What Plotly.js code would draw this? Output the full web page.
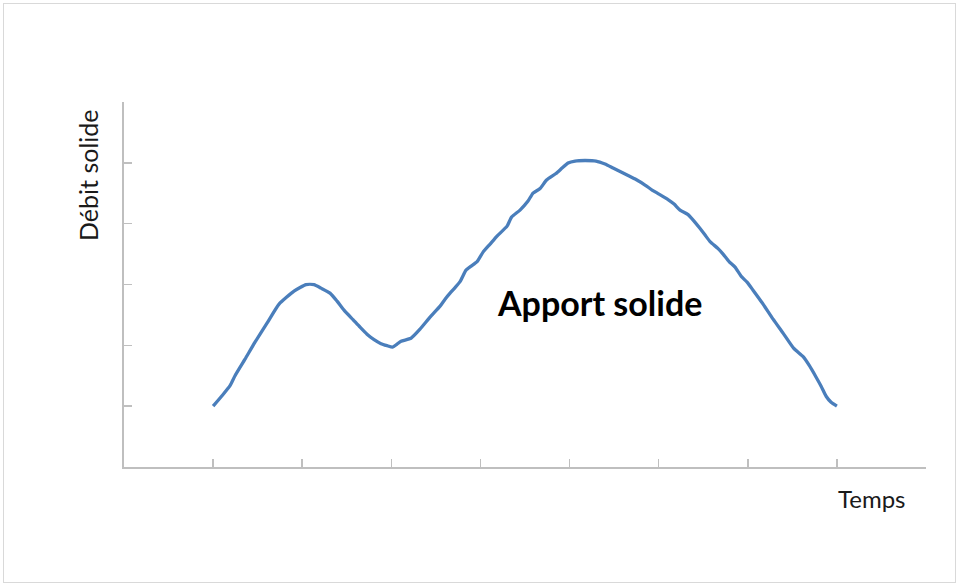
<!DOCTYPE html>
<html>
<head>
<meta charset="utf-8">
<script src="https://cdn.plot.ly/plotly-3.0.1.min.js"></script>
<style>
  html, body { margin: 0; padding: 0; background: #ffffff; }
  #chart { width: 960px; height: 585px; position: absolute; left: 0; top: 0; }
  #frame { position: absolute; left: 3px; top: 3px; width: 951px; height: 578px;
           border: 1px solid #d9d9d9; pointer-events: none; }
</style>
</head>
<body>
<div id="chart"></div>
<div id="frame"></div>
<script>
// Time (category position) and solid discharge values
const temps = [1.000, 1.100, 1.190, 1.246, 1.358, 1.470, 1.605, 1.740, 1.908, 2.043,
  2.132, 2.211, 2.312, 2.391, 2.469, 2.570, 2.649, 2.727, 2.806, 2.884,
  2.952, 3.013, 3.064, 3.109, 3.221, 3.322, 3.434, 3.547, 3.603, 3.659,
  3.715, 3.771, 3.838, 3.895, 3.962, 4.029, 4.108, 4.186, 4.299, 4.349,
  4.444, 4.534, 4.590, 4.669, 4.742, 4.848, 4.916, 4.983, 5.062, 5.174,
  5.297, 5.398, 5.488, 5.567, 5.657, 5.746, 5.847, 5.926, 5.993, 6.105,
  6.173, 6.240, 6.330, 6.397, 6.465, 6.521, 6.577, 6.667, 6.723, 6.790,
  6.857, 6.930, 6.992, 7.059, 7.172, 7.284, 7.396, 7.514, 7.621, 7.688,
  7.767, 7.823, 7.879, 7.935, 8.000];
const debitSolide = [1.000, 1.171, 1.336, 1.500, 1.772, 2.052, 2.364, 2.677, 2.891, 2.998,
  2.998, 2.940, 2.858, 2.726, 2.578, 2.422, 2.298, 2.183, 2.093, 2.027,
  1.994, 1.969, 2.019, 2.068, 2.117, 2.266, 2.463, 2.644, 2.759, 2.858,
  2.948, 3.047, 3.236, 3.302, 3.376, 3.532, 3.664, 3.796, 3.960, 4.108,
  4.223, 4.371, 4.503, 4.577, 4.717, 4.824, 4.914, 4.997, 5.030, 5.038,
  5.030, 4.980, 4.914, 4.857, 4.791, 4.725, 4.635, 4.553, 4.495, 4.396,
  4.322, 4.223, 4.149, 4.042, 3.919, 3.812, 3.705, 3.590, 3.500, 3.376,
  3.286, 3.129, 3.039, 2.907, 2.677, 2.430, 2.200, 1.953, 1.813, 1.673,
  1.476, 1.328, 1.163, 1.064, 1.000];

const yTitle = "Débit solide";
const xTitle = "Temps";
const label = "Apport solide";

const font = "Lato, 'Liberation Sans', sans-serif";
const axisColor = "#bfbfbf";

const trace = {
  x: temps,
  y: debitSolide,
  type: "scatter",
  mode: "lines",
  line: { color: "#4a7ebb", width: 3.3, shape: "spline", smoothing: 0.5 },
  hoverinfo: "skip"
};

const layout = {
  width: 960,
  height: 585,
  margin: { l: 124, r: 34, t: 102, b: 118, pad: 0 },
  paper_bgcolor: "#ffffff",
  plot_bgcolor: "#ffffff",
  showlegend: false,
  font: { family: font, color: "#1a1a1a" },
  xaxis: {
    range: [0, 9], tickmode: "linear", tick0: 0, dtick: 1,
    ticks: "inside", ticklen: 8, tickwidth: 1.5, tickcolor: axisColor,
    showticklabels: false, showgrid: false, zeroline: false,
    showline: true, linecolor: axisColor, linewidth: 2, fixedrange: true
  },
  yaxis: {
    range: [0, 6], tickmode: "linear", tick0: 0, dtick: 1,
    ticks: "inside", ticklen: 8, tickwidth: 1.5, tickcolor: axisColor,
    showticklabels: false, showgrid: false, zeroline: false,
    showline: true, linecolor: axisColor, linewidth: 2, fixedrange: true
  },
  annotations: [
    { text: yTitle, xref: "paper", yref: "paper", x: -0.0449, y: 0.800,
      xanchor: "center", yanchor: "middle", textangle: -90, showarrow: false,
      font: { family: font, size: 25, color: "#1a1a1a" } },
    { text: xTitle, xref: "paper", yref: "paper", x: 0.9327, y: -0.0858,
      xanchor: "center", yanchor: "middle", showarrow: false,
      font: { family: font, size: 24, color: "#1a1a1a" } },
    { text: "<b>" + label + "</b>", xref: "paper", yref: "paper", x: 0.5935, y: 0.4516,
      xanchor: "center", yanchor: "middle", showarrow: false,
      font: { family: font, size: 34, color: "#000000" } }
  ]
};

Plotly.newPlot("chart", [trace], layout, { displayModeBar: false, staticPlot: true });
</script>
</body>
</html>
